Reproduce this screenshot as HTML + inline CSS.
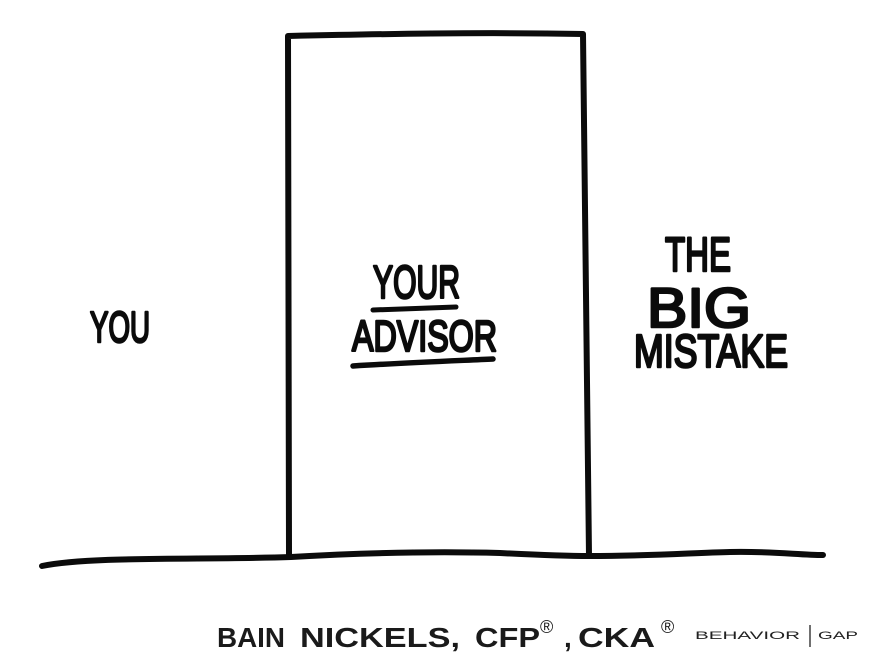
<!DOCTYPE html>
<html>
<head>
<meta charset="utf-8">
<style>
html,body{margin:0;padding:0;background:#fff;}
svg{display:block;}
</style>
</head>
<body>
<svg width="890" height="664" viewBox="0 0 890 664" xmlns="http://www.w3.org/2000/svg">
<rect width="890" height="664" fill="#fff"/>
<g fill="none" stroke="#0b0b0b" stroke-width="6" stroke-linecap="round" stroke-linejoin="round">
  <!-- box -->
  <path d="M289,556 L288,36 C380,34 480,32 583,34 L589,556"/>
  <!-- ground -->
  <path d="M42,566 C90,556 200,560 291,557 C360,553 430,551 500,553 C540,555 570,556 589,556 C650,556 690,553 730,552 C770,551 800,555 823,555"/>
  <!-- underlines -->
  <path d="M373,310 C400,309 430,308 456,307" stroke-width="5"/>
  <path d="M353,366 C400,363 450,361 493,359" stroke-width="5.5"/>
</g>
<g fill="#0b0b0b" font-family="'Liberation Sans', sans-serif" font-weight="normal" stroke="#0b0b0b" stroke-width="2.6" stroke-linejoin="round">
  <text x="90" y="342" font-size="44" textLength="60" lengthAdjust="spacingAndGlyphs">YOU</text>
  <text x="373" y="298" font-size="46" textLength="87" lengthAdjust="spacingAndGlyphs">YOUR</text>
  <text x="352" y="351" font-size="44" textLength="145" lengthAdjust="spacingAndGlyphs">ADVISOR</text>
  <text x="665" y="271" font-size="48" textLength="66" lengthAdjust="spacingAndGlyphs">THE</text>
  <text x="647" y="327" font-size="56" textLength="104" lengthAdjust="spacingAndGlyphs">BIG</text>
  <text x="634" y="367" font-size="46" textLength="154" lengthAdjust="spacingAndGlyphs">MISTAKE</text>
</g>
<g fill="#1a1a1a" font-family="'Liberation Sans', sans-serif" font-weight="bold" font-size="28">
  <text x="217" y="647" textLength="68" lengthAdjust="spacingAndGlyphs">BAIN</text>
  <text x="300" y="647" textLength="160" lengthAdjust="spacingAndGlyphs">NICKELS,</text>
  <text x="475" y="647" textLength="65" lengthAdjust="spacingAndGlyphs">CFP</text>
  <text x="540" y="633" font-size="18" font-weight="normal">®</text>
  <text x="564" y="647">,</text>
  <text x="578" y="647" textLength="77" lengthAdjust="spacingAndGlyphs">CKA</text>
  <text x="661" y="633" font-size="18" font-weight="normal">®</text>
</g>
<g fill="#222" font-family="'Liberation Sans', sans-serif" font-size="11">
  <text x="695" y="639" textLength="105" lengthAdjust="spacingAndGlyphs">BEHAVIOR</text>
  <text x="818" y="639" textLength="40" lengthAdjust="spacingAndGlyphs">GAP</text>
</g>
<line x1="810" y1="625" x2="810" y2="647" stroke="#222" stroke-width="1.3"/>
</svg>
</body>
</html>
